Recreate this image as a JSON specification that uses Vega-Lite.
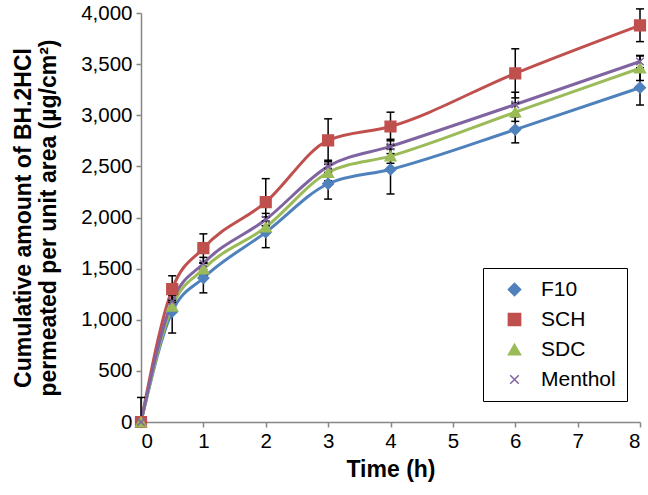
{
  "$schema": "https://vega.github.io/schema/vega-lite/v6.json",
  "width": 499,
  "height": 409,
  "autosize": {"type": "none"},
  "padding": {"left": 141, "top": 13, "right": 8, "bottom": 73},
  "background": "white",
  "config": {
    "view": {"stroke": null},
    "font": "Liberation Sans",
    "numberFormat": ",d",
    "axis": {
      "grid": false,
      "domainColor": "#868686",
      "tickColor": "#868686",
      "domainWidth": 1.5,
      "tickWidth": 1.5,
      "tickSize": 5,
      "labelFontSize": 20.5,
      "labelColor": "#000000",
      "labelPadding": 4,
      "titleFontSize": 23,
      "titleFontWeight": "bold",
      "titleColor": "#000000"
    }
  },
  "data": {
    "values": [
      {"series": "F10", "t": 0, "v": 0, "lo": 0, "hi": 0},
      {"series": "F10", "t": 0.5, "v": 1080, "lo": 870, "hi": 1290},
      {"series": "F10", "t": 1, "v": 1408, "lo": 1263, "hi": 1553},
      {"series": "F10", "t": 2, "v": 1855, "lo": 1705, "hi": 2005},
      {"series": "F10", "t": 3, "v": 2330, "lo": 2180, "hi": 2480},
      {"series": "F10", "t": 4, "v": 2470, "lo": 2230, "hi": 2710},
      {"series": "F10", "t": 6, "v": 2860, "lo": 2730, "hi": 2990},
      {"series": "F10", "t": 8, "v": 3270, "lo": 3100, "hi": 3440},
      {"series": "SCH", "t": 0, "v": 0, "lo": 0, "hi": 240},
      {"series": "SCH", "t": 0.5, "v": 1300, "lo": 1170, "hi": 1430},
      {"series": "SCH", "t": 1, "v": 1700, "lo": 1560, "hi": 1840},
      {"series": "SCH", "t": 2, "v": 2150, "lo": 1920, "hi": 2380},
      {"series": "SCH", "t": 3, "v": 2755, "lo": 2545, "hi": 2965},
      {"series": "SCH", "t": 4, "v": 2890, "lo": 2750, "hi": 3030},
      {"series": "SCH", "t": 6, "v": 3410, "lo": 3170, "hi": 3650},
      {"series": "SCH", "t": 8, "v": 3880, "lo": 3720, "hi": 4040},
      {"series": "SDC", "t": 0, "v": 0, "lo": 0, "hi": 0},
      {"series": "SDC", "t": 0.5, "v": 1130, "lo": 1070, "hi": 1190},
      {"series": "SDC", "t": 1, "v": 1495, "lo": 1435, "hi": 1555},
      {"series": "SDC", "t": 2, "v": 1905, "lo": 1845, "hi": 1965},
      {"series": "SDC", "t": 3, "v": 2440, "lo": 2360, "hi": 2520},
      {"series": "SDC", "t": 4, "v": 2600, "lo": 2530, "hi": 2670},
      {"series": "SDC", "t": 6, "v": 3030, "lo": 2940, "hi": 3120},
      {"series": "SDC", "t": 8, "v": 3460, "lo": 3340, "hi": 3580},
      {"series": "Menthol", "t": 0, "v": 0, "lo": 0, "hi": 0},
      {"series": "Menthol", "t": 0.5, "v": 1180, "lo": 1120, "hi": 1240},
      {"series": "Menthol", "t": 1, "v": 1550, "lo": 1490, "hi": 1610},
      {"series": "Menthol", "t": 2, "v": 1980, "lo": 1920, "hi": 2040},
      {"series": "Menthol", "t": 3, "v": 2500, "lo": 2440, "hi": 2560},
      {"series": "Menthol", "t": 4, "v": 2695, "lo": 2625, "hi": 2765},
      {"series": "Menthol", "t": 6, "v": 3105, "lo": 2985, "hi": 3225},
      {"series": "Menthol", "t": 8, "v": 3525, "lo": 3465, "hi": 3585}
    ]
  },
  "encoding": {
    "x": {
      "field": "t", "type": "quantitative",
      "scale": {"domain": [0, 8], "nice": false},
      "title": "Time (h)",
      "axis": {"values": [0,1,2,3,4,5,6,7,8], "titlePadding": 7}
    }
  },
  "layer": [
    {
      "mark": {"type": "line", "interpolate": "monotone", "strokeWidth": 3},
      "encoding": {
        "y": {
          "field": "v", "type": "quantitative",
          "scale": {"domain": [0, 4000], "nice": false},
          "title": ["Cumulative amount of BH.2HCl", "permeated per unit area (µg/cm²)"],
          "axis": {"values": [0,500,1000,1500,2000,2500,3000,3500,4000], "titlePadding": 20, "titleLineHeight": 25}
        },
        "color": {
          "field": "series", "type": "nominal",
          "scale": {"domain": ["F10", "SCH", "SDC", "Menthol"], "range": ["#4F81BD", "#C0504D", "#9BBB59", "#8064A2"]}
        }
      }
    },
    {
      "transform": [{"filter": "datum.hi > datum.lo"}],
      "mark": {"type": "rule", "color": "#000000", "strokeWidth": 1.5},
      "encoding": {
        "y": {"field": "lo", "type": "quantitative", "title": ["Cumulative amount of BH.2HCl", "permeated per unit area (µg/cm²)"]},
        "y2": {"field": "hi"}
      }
    },
    {
      "transform": [{"filter": "datum.hi > datum.lo && datum.lo > 0"}],
      "mark": {"type": "tick", "color": "#000000", "thickness": 1.5, "size": 8, "orient": "horizontal", "opacity": 1},
      "encoding": {
        "y": {"field": "lo", "type": "quantitative", "title": ["Cumulative amount of BH.2HCl", "permeated per unit area (µg/cm²)"]}
      }
    },
    {
      "transform": [{"filter": "datum.hi > datum.lo"}],
      "mark": {"type": "tick", "color": "#000000", "thickness": 1.5, "size": 8, "orient": "horizontal", "opacity": 1},
      "encoding": {
        "y": {"field": "hi", "type": "quantitative", "title": ["Cumulative amount of BH.2HCl", "permeated per unit area (µg/cm²)"]}
      }
    },
    {
      "mark": {"type": "point", "filled": true, "size": 115, "opacity": 1, "strokeWidth": 1.5},
      "encoding": {
        "y": {"field": "v", "type": "quantitative", "title": ["Cumulative amount of BH.2HCl", "permeated per unit area (µg/cm²)"]},
        "color": {
          "field": "series", "type": "nominal",
          "scale": {"domain": ["F10", "SCH", "SDC", "Menthol"], "range": ["#4F81BD", "#C0504D", "#9BBB59", "#8064A2"]},
          "legend": {
            "title": null, "orient": "none", "legendX": 342, "legendY": 255,
            "strokeColor": "#000000", "padding": 11, "labelFontSize": 21, "labelColor": "#000000",
            "symbolSize": 150, "rowPadding": 8, "symbolOffset": 10, "labelOffset": 16, "symbolStrokeWidth": 1.5, "fillColor": "white"
          }
        },
        "shape": {
          "field": "series", "type": "nominal",
          "scale": {"domain": ["F10", "SCH", "SDC", "Menthol"], "range": ["diamond", "square", "triangle-up", "M-0.7,-0.7L0.7,0.7M-0.7,0.7L0.7,-0.7"]}
        },
        "stroke": {
          "field": "series", "type": "nominal",
          "scale": {"domain": ["F10", "SCH", "SDC", "Menthol"], "range": ["#4F81BD", "#C0504D", "#9BBB59", "#8064A2"]}
        }
      }
    }
  ]
}
